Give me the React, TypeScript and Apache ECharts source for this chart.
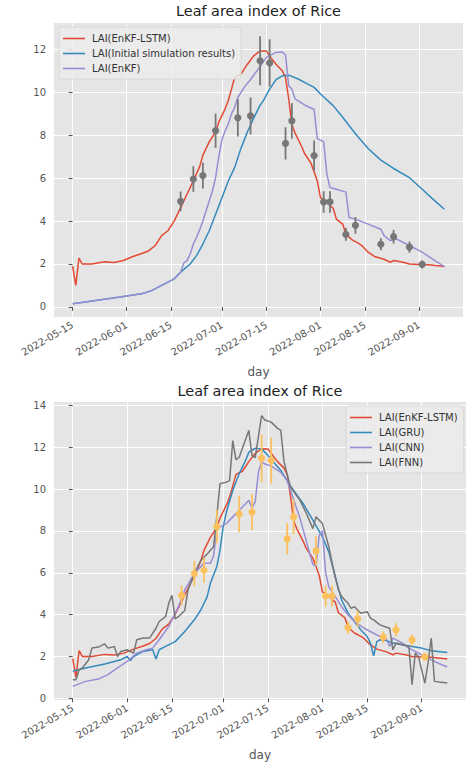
import React, { useEffect, useRef } from "react";
import * as echarts from "echarts";

const FONT = "DejaVu Sans";
const START = Date.UTC(2022, 4, 15);
const TITLE = "Leaf area index of Rice";

// x tick positions (days after 2022-05-15) -> labels 2022-05-15 ... 2022-09-01
const tickDays = [0, 17, 31, 47, 61, 78, 92, 109];
const yTicksTop = [0, 2, 4, 6, 8, 10, 12];
const yTicksBottom = [0, 2, 4, 6, 8, 10, 12, 14];

// observations (day, LAI, error)
const obsDays = [34, 38, 41, 45, 52, 56, 59, 62, 67, 69, 76, 79, 81, 86, 89, 97, 101, 106, 110];
const obsVals = [4.92, 5.96, 6.12, 8.21, 8.81, 8.9, 11.47, 11.37, 7.62, 8.67, 7.05, 4.89, 4.89, 3.38, 3.8, 2.92, 3.27, 2.79, 1.98];
const obsErr = [0.46, 0.6, 0.6, 0.8, 0.87, 0.86, 1.14, 1.1, 0.75, 0.83, 0.7, 0.5, 0.5, 0.3, 0.39, 0.28, 0.32, 0.26, 0.18];

// [day, LAI]
const enkfLstm: [number, number][] = [
  [0, 1.9], [1, 1.0], [2, 2.28], [3, 2.0], [6, 2.0], [10, 2.1], [13, 2.07], [16, 2.16], [19, 2.35], [22, 2.5],
  [24, 2.62], [26, 2.86], [28, 3.32], [30, 3.55], [32, 4.01], [34, 4.63], [36, 5.25], [38, 5.87], [40, 6.55],
  [41, 7.07], [43, 7.69], [45, 8.15], [46, 8.61], [48, 9.23], [49, 9.62], [50, 10.15], [51, 10.7], [53, 10.85],
  [55, 11.31], [57, 11.7], [59, 11.93], [61, 11.92], [62, 11.7], [64, 11.31], [66, 11.0], [67, 10.7], [68, 9.7],
  [69, 8.5], [70, 8.1], [72, 7.5], [73, 7.15], [75, 6.7], [76, 6.3], [77, 5.87], [78, 5.09], [80, 4.86],
  [82, 4.6], [83, 4.09], [85, 3.86], [86, 3.39], [88, 3.12], [90, 2.96], [91, 2.86], [93, 2.55], [95, 2.35],
  [98, 2.22], [100, 2.08], [101, 2.16], [104, 2.08], [106, 2.0], [109, 1.98], [112, 1.96], [117, 1.88],
];
const initialSim: [number, number][] = [
  [0, 0.15], [4, 0.23], [10, 0.36], [15, 0.46], [19, 0.55], [22, 0.62], [25, 0.77], [28, 1.0], [32, 1.31],
  [34, 1.62], [37, 2.0], [39, 2.39], [41, 2.93], [43, 3.55], [45, 4.32], [47, 5.09], [49, 5.87], [51, 6.5],
  [53, 7.4], [55, 8.15], [57, 8.8], [59, 9.4], [60, 9.6], [62, 10.15], [64, 10.59], [66, 10.77], [68, 10.8],
  [71, 10.62], [74, 10.38], [76, 10.23], [78, 9.92], [82, 9.38], [85, 8.84], [89, 8.07], [93, 7.38],
  [97, 6.84], [101, 6.45], [106, 6.02], [110, 5.48], [114, 4.94], [117, 4.55],
];
const enkf: [number, number][] = [
  [0, 0.15], [4, 0.23], [10, 0.36], [15, 0.46], [19, 0.55], [22, 0.62], [25, 0.77], [28, 1.0], [32, 1.31],
  [34, 1.62], [35, 2.05], [36, 2.16], [37, 2.47], [38, 2.93], [39, 3.24], [40, 3.6], [41, 4.0], [42, 4.48],
  [43, 4.94], [44, 5.4], [45, 6.02], [46, 7.0], [47, 7.8], [48, 8.2], [49, 8.53], [50, 9.0], [51, 9.3],
  [52, 9.77], [54, 10.23], [56, 10.6], [58, 11.0], [61, 11.63], [64, 11.86], [66, 11.88], [67, 11.75],
  [68, 10.3], [69, 10.15], [70, 9.69], [73, 9.41], [76, 9.2], [77, 7.84], [79, 7.7], [80, 6.2], [81, 5.56],
  [83, 5.48], [86, 5.35], [87, 4.17], [89, 4.09], [93, 3.86], [97, 3.62], [98, 3.32], [100, 3.09],
  [102, 3.16], [106, 2.86], [110, 2.55], [114, 2.16], [117, 1.88],
];
const gru: [number, number][] = [
  [0, 1.29], [4, 1.45], [10, 1.64], [15, 1.84], [17, 2.0], [18, 1.81], [19, 2.0], [22, 2.24], [24, 2.3],
  [25, 2.32], [26, 1.88], [27, 2.32], [29, 2.48], [32, 2.71], [35, 3.19], [38, 3.75], [40, 4.22], [42, 4.86],
  [43, 5.5], [45, 6.29], [46, 7.08], [47, 8.19], [48, 8.9], [50, 9.94], [52, 10.73], [54, 11.37], [55, 11.76],
  [57, 11.95], [59, 11.92], [61, 11.6], [65, 10.89], [68, 10.15], [72, 9.3], [75, 8.51], [78, 7.71],
  [80, 7.0], [82, 5.81], [84, 4.7], [86, 4.07], [88, 3.67], [90, 3.27], [92, 2.95], [93, 2.64], [94, 2.03],
  [95, 2.71], [96, 2.8], [98, 2.76], [100, 2.64], [103, 2.56], [106, 2.48], [109, 2.4], [112, 2.27], [117, 2.19],
];
const cnn: [number, number][] = [
  [0, 0.57], [4, 0.81], [8, 0.92], [11, 1.13], [14, 1.45], [17, 1.76], [20, 2.16], [23, 2.32], [25, 2.4],
  [27, 2.8], [30, 3.43], [33, 4.38], [35, 5.18], [38, 5.97], [41, 6.45], [43, 6.45], [44, 6.8], [45, 8.1],
  [46, 8.19], [48, 8.35], [50, 8.67], [52, 8.99], [54, 9.3], [55, 9.46], [56, 9.1], [57, 9.4], [58, 10.8],
  [59, 11.3], [60, 11.2], [62, 11.1], [65, 10.8], [67, 10.4], [68, 9.94], [69, 9.5], [71, 8.6], [73, 7.5],
  [74, 6.92], [75, 6.4], [76, 6.3], [77, 7.8], [78, 8.0], [79, 6.0], [80, 5.33], [82, 4.86], [84, 4.38],
  [86, 3.99], [88, 3.67], [91, 3.35], [94, 3.11], [96, 2.95], [98, 2.83], [99, 2.48], [100, 2.88],
  [103, 2.64], [105, 2.4], [108, 2.16], [111, 1.92], [114, 1.69], [117, 1.5],
];
const fnn: [number, number][] = [
  [0, 0.89], [1, 0.89], [2, 1.37], [3, 1.45], [5, 1.84], [6, 2.4], [8, 2.45], [10, 2.6], [11, 2.4],
  [13, 2.48], [14, 2.0], [15, 2.24], [17, 2.32], [19, 2.16], [20, 2.8], [22, 2.88], [24, 2.88], [26, 3.35],
  [27, 3.67], [29, 3.9], [30, 4.54], [31, 4.92], [32, 3.8], [33, 3.9], [35, 4.2], [36, 5.18], [38, 5.97],
  [40, 6.6], [42, 6.9], [44, 7.24], [45, 8.7], [46, 10.26], [48, 10.33], [49, 10.4], [50, 12.32], [51, 11.4],
  [52, 11.52], [55, 12.8], [56, 11.6], [57, 11.5], [59, 13.51], [60, 13.3], [62, 13.2], [64, 12.9],
  [65, 12.8], [66, 11.3], [67, 10.7], [68, 10.1], [71, 9.46], [73, 8.83], [75, 8.11], [76, 8.67],
  [78, 8.35], [80, 7.24], [81, 6.5], [82, 5.81], [83, 5.18], [84, 4.86], [86, 4.54], [87, 4.3], [88, 4.38],
  [90, 4.07], [92, 4.14], [93, 3.83], [94, 3.75], [96, 3.51], [98, 3.4], [99, 3.35], [100, 2.32],
  [101, 2.64], [103, 2.56], [105, 2.48], [106, 0.65], [107, 2.16], [108, 2.0], [110, 0.73], [111, 1.69],
  [112, 2.88], [113, 0.81], [117, 0.73],
];

const RED = "#E24A33";
const BLUE = "#348ABD";
const PURPLE = "#988ED5";
const GRAY = "#777777";
const YELLOW = "#FBC15E";

const pad = (n: number) => (n < 10 ? "0" + n : "" + n);
const fmtDay = (d: number) => {
  const t = new Date(START + Math.round(d) * 86400000);
  return `${t.getUTCFullYear()}-${pad(t.getUTCMonth() + 1)}-${pad(t.getUTCDate())}`;
};

const N_LSTM = "LAI(EnKF-LSTM)";
const N_INIT = "LAI(Initial simulation results)";
const N_ENKF = "LAI(EnKF)";
const N_GRU = "LAI(GRU)";
const N_CNN = "LAI(CNN)";
const N_FNN = "LAI(FNN)";

function xAxis(gridIndex: number) {
  return {
    type: "value",
    gridIndex,
    min: -5.85,
    max: 122.85,
    axisLine: { show: false },
    axisTick: { show: true, length: 4, customValues: tickDays, lineStyle: { color: "#555555", width: 1 } },
    axisLabel: {
      customValues: tickDays,
      formatter: (v: number) => fmtDay(v),
      rotate: 30,
      margin: 7,
      color: "#555555",
      fontSize: 10,
      fontFamily: FONT,
    },
    splitLine: { show: true, lineStyle: { color: "#ffffff", width: 1 } },
    name: "day",
    nameLocation: "middle",
    nameGap: 49,
    nameTextStyle: { color: "#555555", fontSize: 12, fontFamily: FONT },
  };
}

function yAxis(gridIndex: number, min: number, max: number, ticks: number[]) {
  return {
    type: "value",
    gridIndex,
    min,
    max,
    axisLine: { show: false },
    axisTick: { show: true, length: 4, customValues: ticks, lineStyle: { color: "#555555", width: 1 } },
    axisLabel: { customValues: ticks, margin: 8, color: "#555555", fontSize: 10, fontFamily: FONT },
    splitLine: { show: true, lineStyle: { color: "#ffffff", width: 1 } },
  };
}

function line(name: string, data: [number, number][], color: string, idx: number) {
  return {
    type: "line",
    name,
    data,
    xAxisIndex: idx,
    yAxisIndex: idx,
    showSymbol: false,
    symbol: "none",
    lineStyle: { color, width: 1.5 },
    itemStyle: { color },
    color,
  };
}

function obsSeries(color: string, idx: number) {
  return {
    type: "custom",
    name: "obs" + idx,
    xAxisIndex: idx,
    yAxisIndex: idx,
    encode: { x: 0, y: 1 },
    data: obsDays.map((d, i) => [d, obsVals[i], obsErr[i]]),
    renderItem: (_p: any, api: any) => {
      const x = api.value(0);
      const y = api.value(1);
      const e = api.value(2);
      const top = api.coord([x, y + e]);
      const bot = api.coord([x, y - e]);
      const c = api.coord([x, y]);
      return {
        type: "group",
        children: [
          { type: "line", shape: { x1: top[0], y1: top[1], x2: bot[0], y2: bot[1] }, style: { stroke: color, lineWidth: 1.8 } },
          { type: "circle", shape: { cx: c[0], cy: c[1], r: 3.6 }, style: { fill: color } },
        ],
      };
    },
    z: 5,
  };
}

const legendBase = {
  orient: "vertical",
  icon: "rect",
  itemWidth: 22,
  itemHeight: 1.6,
  itemGap: 2,
  backgroundColor: "rgba(236,236,236,0.85)",
  borderColor: "#d8d8d8",
  borderWidth: 1,
  borderRadius: 3,
  padding: [5, 6, 4, 4],
  textStyle: { color: "#333333", fontSize: 10, lineHeight: 13, fontFamily: FONT, padding: [0, 0, 0, 2] },
};

export default function App() {
  const ref = useRef<HTMLDivElement>(null);
  useEffect(() => {
    if (!ref.current) return;
    const chart = echarts.init(ref.current, undefined, { renderer: "svg" });
    chart.setOption({
      animation: false,
      backgroundColor: "#ffffff",
      graphic: [
        { type: "text", x: 258.5, y: 11, style: { text: TITLE, fill: "#222222", font: `14.4px '${FONT}'`, textAlign: "center", textVerticalAlign: "middle" } },
        { type: "text", x: 260, y: 391, style: { text: TITLE, fill: "#222222", font: `14.4px '${FONT}'`, textAlign: "center", textVerticalAlign: "middle" } },
      ],
      grid: [
        { left: 54, top: 23, width: 409, height: 294, show: true, backgroundColor: "#E5E5E5", borderWidth: 0 },
        { left: 54, top: 402, width: 413, height: 298, show: true, backgroundColor: "#E5E5E5", borderWidth: 0 },
      ],
      xAxis: [xAxis(0), xAxis(1)],
      yAxis: [yAxis(0, -0.47, 13.23, yTicksTop), yAxis(1, -0.08, 14.16, yTicksBottom)],
      legend: [
        { ...legendBase, left: 59, top: 27, data: [N_LSTM, N_INIT, N_ENKF] },
        { ...legendBase, left: 346, top: 406, data: [N_LSTM, N_GRU, N_CNN, N_FNN] },
      ],
      series: [
        line(N_LSTM, enkfLstm, RED, 0),
        line(N_INIT, initialSim, BLUE, 0),
        line(N_ENKF, enkf, PURPLE, 0),
        obsSeries(GRAY, 0),
        line(N_LSTM, enkfLstm, RED, 1),
        line(N_GRU, gru, BLUE, 1),
        line(N_CNN, cnn, PURPLE, 1),
        line(N_FNN, fnn, GRAY, 1),
        obsSeries(YELLOW, 1),
      ],
    });
    return () => chart.dispose();
  }, []);
  return <div ref={ref} style={{ position: "absolute", left: 0, top: 0, width: 466, height: 766 }} />;
}
